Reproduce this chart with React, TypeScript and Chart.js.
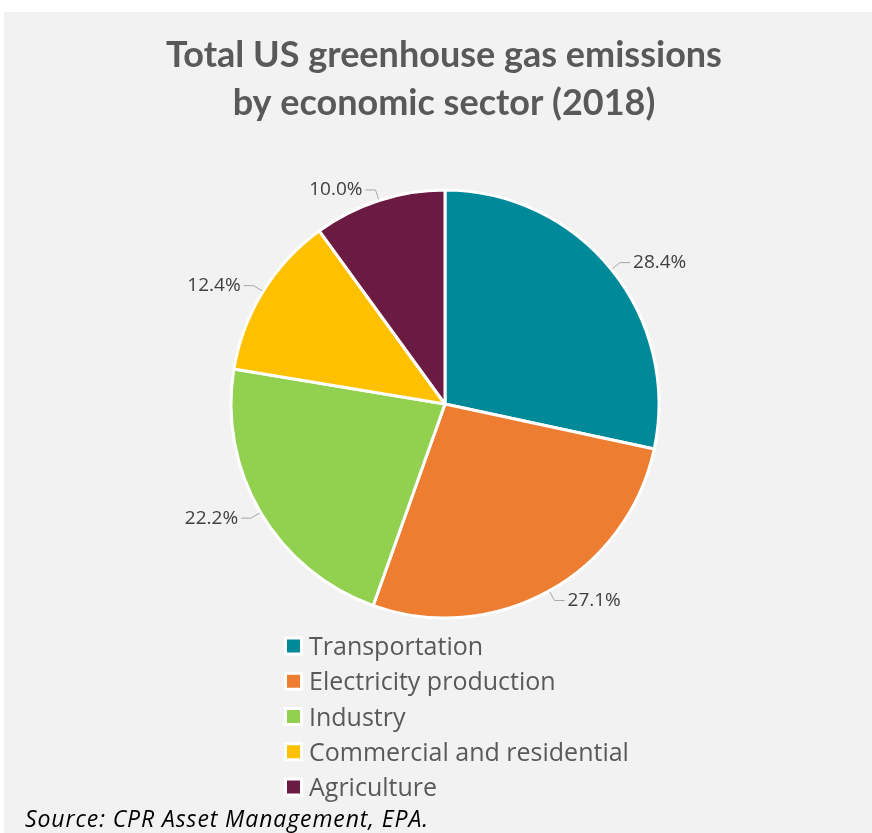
import React, { useEffect, useRef } from 'react';
import { Chart, registerables } from 'chart.js';

Chart.register(...registerables);

const TITLE_LINES = ['Total US greenhouse gas emissions', 'by economic sector (2018)'];
const SECTORS = ['Transportation', 'Electricity production', 'Industry', 'Commercial and residential', 'Agriculture'];
const SHARES = [28.4, 27.1, 22.2, 12.4, 10.0];
const SECTOR_COLORS = ['#008A99', '#ED7D31', '#92D050', '#FFC000', '#6B1A41'];
const SOURCE_NOTE = 'Source: CPR Asset Management, EPA.';

const W = 872;
const H = 833;

const textPlugin = {
  id: 'textPlugin',
  afterDatasetsDraw(chart: any) {
    const ctx = chart.ctx as CanvasRenderingContext2D;
    ctx.save();

    // Title
    ctx.fillStyle = '#595959';
    ctx.font = '700 36px Lato';
    ctx.textAlign = 'center';
    ctx.textBaseline = 'alphabetic';
    TITLE_LINES.forEach((line, i) => ctx.fillText(line, 444, 67 + i * 48));

    // Data labels with leader lines
    const meta = chart.getDatasetMeta(0);
    const values = chart.data.datasets[0].data as number[];
    meta.data.forEach((arc: any, i: number) => {
      const p = arc.getProps(['x', 'y', 'startAngle', 'endAngle', 'outerRadius'], true);
      const mid = (p.startAngle + p.endAngle) / 2;
      const c = Math.cos(mid);
      const s = Math.sin(mid);
      const r = p.outerRadius;
      const x1 = p.x + c * (r + 1);
      const y1 = p.y + s * (r + 1);
      const x2 = p.x + c * (r + 11);
      const y2 = p.y + s * (r + 11);
      const right = c >= 0;
      const x3 = x2 + (right ? 10 : -10);
      ctx.strokeStyle = '#A6A6A6';
      ctx.lineWidth = 1;
      ctx.beginPath();
      ctx.moveTo(x1, y1);
      ctx.lineTo(x2, y2);
      ctx.lineTo(x3, y2);
      ctx.stroke();
      ctx.fillStyle = '#404040';
      ctx.font = '19px "Open Sans"';
      ctx.textAlign = right ? 'left' : 'right';
      ctx.textBaseline = 'middle';
      ctx.fillText(values[i].toFixed(1) + '%', x3 + (right ? 3 : -3), y2);
    });

    // Legend
    const labels = chart.data.labels as string[];
    const colors = chart.data.datasets[0].backgroundColor as string[];
    labels.forEach((lab, i) => {
      const cy = 646 + i * 35.25;
      ctx.fillStyle = '#FFFFFF';
      ctx.fillRect(284, cy - 9.5, 19, 19);
      ctx.fillStyle = colors[i];
      ctx.fillRect(287, cy - 6.5, 13, 13);
      ctx.fillStyle = '#595959';
      ctx.font = '25px "Open Sans"';
      ctx.textAlign = 'left';
      ctx.textBaseline = 'alphabetic';
      ctx.fillText(lab, 309, cy + 9);
    });

    // Source
    ctx.fillStyle = '#000000';
    ctx.font = 'italic 23px "Open Sans"';
    ctx.textAlign = 'left';
    (ctx as any).letterSpacing = '0.9px';
    ctx.fillText(SOURCE_NOTE, 25, 827);
    (ctx as any).letterSpacing = '0px';

    ctx.restore();
  },
};

export default function App() {
  const ref = useRef<HTMLCanvasElement | null>(null);

  useEffect(() => {
    if (!ref.current) return;
    const chart = new Chart(ref.current, {
      type: 'pie',
      data: {
        labels: SECTORS,
        datasets: [
          {
            data: SHARES,
            backgroundColor: SECTOR_COLORS,
            borderColor: '#FFFFFF',
            borderWidth: 3,
            hoverOffset: 0,
            offset: 0,
            radius: 214,
          } as any,
        ],
      },
      options: {
        responsive: false,
        animation: false,
        events: [],
        layout: { padding: { left: 200, right: 182, top: 164, bottom: 189 } },
        plugins: {
          legend: { display: false },
          title: { display: false },
          tooltip: { enabled: false },
        },
      },
      plugins: [textPlugin],
    });
    return () => chart.destroy();
  }, []);

  return (
    <div style={{ position: 'fixed', left: 0, top: 0, width: W, height: H, background: '#FFFFFF', overflow: 'hidden' }}>
      <div style={{ position: 'absolute', left: 4, top: 12, right: 0, bottom: 0, background: '#F2F2F2' }} />
      <canvas ref={ref} width={W} height={H} style={{ position: 'absolute', left: 0, top: 0, width: W, height: H }} />
    </div>
  );
}
